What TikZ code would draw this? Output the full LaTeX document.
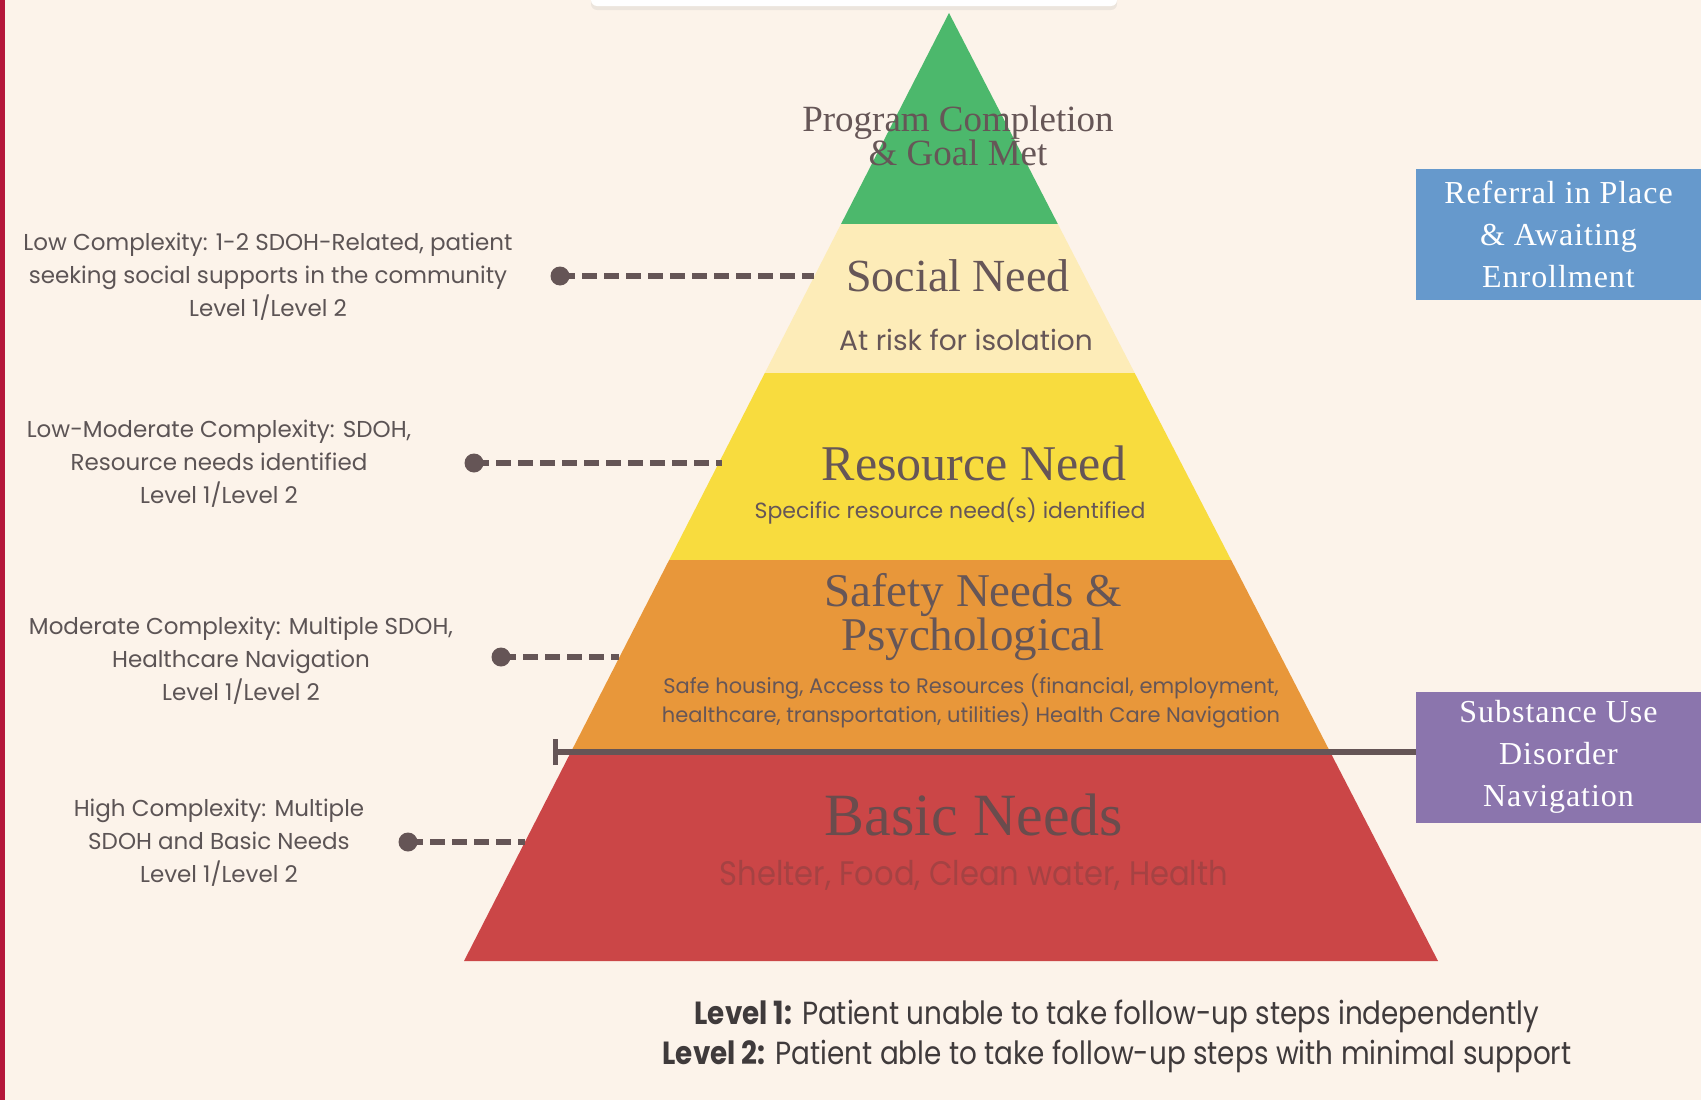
\documentclass[tikz,border=0pt]{standalone}
\usepackage{fontspec}
\setmainfont{Liberation Serif}
\setsansfont{Poppins}
\newfontfamily\condsans{Poppins}[FakeStretch=0.87]
\newfontfamily\shelterfont{Poppins}[FakeStretch=0.9]
\newfontfamily\boxfont{Liberation Serif}[LetterSpace=3]
\usetikzlibrary{arrows.meta,shadows}
\definecolor{bg}{HTML}{FCF3EA}
\definecolor{crim}{HTML}{B5173A}
\definecolor{pgreen}{HTML}{4CB86C}
\definecolor{plight}{HTML}{FDECB8}
\definecolor{pyellow}{HTML}{F8DC3E}
\definecolor{porange}{HTML}{E8973A}
\definecolor{pred}{HTML}{CB4647}
\definecolor{txt}{HTML}{665657}
\definecolor{basictxt}{HTML}{6A4C4D}
\definecolor{lbl}{HTML}{5C5455}
\definecolor{conn}{HTML}{655556}
\definecolor{bluebox}{HTML}{6699CC}
\definecolor{purplebox}{HTML}{8B75AD}
\definecolor{redsub}{HTML}{A54243}
\definecolor{legendtxt}{HTML}{3F3A3B}
\begin{document}
\begin{tikzpicture}[x=1pt,y=-1pt,
  head/.style={text=txt,align=center,inner sep=0pt},
  sub/.style={text=txt,align=center,inner sep=0pt,font=\sffamily},
  leftlbl/.style={text=lbl,align=center,inner sep=0pt,font=\sffamily\fontsize{23}{33}\selectfont},
  sidebox/.style={text=white,align=center,inner sep=0pt,minimum width=285pt,minimum height=131pt,font=\boxfont\fontsize{32}{42}\selectfont},
  dashconn/.style={draw=conn,line width=5.5pt,dash pattern=on 15pt off 7pt},
  dotend/.style={fill=conn}
]
\useasboundingbox (0,0) rectangle (1701,1100);
\fill[bg] (0,0) rectangle (1701,1100);
\fill[crim] (0,0) rectangle (5,1100);
% top strip
\fill[white,rounded corners=6pt,drop shadow={opacity=0.12,shadow xshift=0pt,shadow yshift=-4pt}] (591,-20) rectangle (1117,6);

% pyramid
\coordinate (apex) at (949,13);
\coordinate (bl) at (464,961);
\coordinate (br) at (1438,961);
\begin{scope}
  \clip (apex) -- (br) -- (bl) -- cycle;
  \fill[pgreen] (400,0) rectangle (1500,223.5);
  \fill[plight] (400,223.5) rectangle (1500,373);
  \fill[pyellow] (400,373) rectangle (1500,560);
  \fill[porange] (400,560) rectangle (1500,752);
  \fill[pred] (400,752) rectangle (1500,962);
\end{scope}

% pyramid texts
\node[head,font=\fontsize{37}{31}\selectfont] (prog) at (958,136) {Program Completion\\\& Goal Met};
\node[head,font=\fontsize{46}{46}\selectfont] (social) at (958,276) {Social Need};
\node[sub,font=\sffamily\fontsize{28}{28}\selectfont] (risk) at (966,340) {At risk for isolation};
\node[head,font=\fontsize{50}{50}\selectfont] (resource) at (974,463) {Resource Need};
\node[sub,font=\sffamily\fontsize{22}{22}\selectfont] (specific) at (950,511) {Specific resource need(s) identified};
\node[head,font=\fontsize{47}{36}\selectfont] (safety) at (973,617) {Safety Needs \&\\Psychological};
\node[sub,font=\sffamily\fontsize{21}{29}\selectfont] (safe) at (971,701) {Safe housing, Access to Resources (financial, employment,\\healthcare, transportation, utilities) Health Care Navigation};
\node[head,text=basictxt,font=\fontsize{60}{60}\selectfont] (basic) at (974,815) {Basic Needs};
\node[sub,text=redsub,font=\shelterfont\fontsize{34}{34}\selectfont] (shelter) at (974,875) {Shelter, Food, Clean water, Health};

% left labels
\node[leftlbl] (l1) at (268,277) {Low Complexity: 1-2 SDOH-Related, patient\\seeking social supports in the community\\Level 1/Level 2};
\node[leftlbl] (l2) at (219,464) {Low-Moderate Complexity: SDOH,\\Resource needs identified\\Level 1/Level 2};
\node[leftlbl] (l3) at (241,661) {Moderate Complexity: Multiple SDOH,\\Healthcare Navigation\\Level 1/Level 2};
\node[leftlbl] (l4) at (219,843) {High Complexity: Multiple\\SDOH and Basic Needs\\Level 1/Level 2};

% connectors
\coordinate (d1) at (560,276);  \coordinate (e1) at (814,276);
\coordinate (d2) at (474,463);  \coordinate (e2) at (722,463);
\coordinate (d3) at (501,657);  \coordinate (e3) at (619,657);
\coordinate (d4) at (408,842);  \coordinate (e4) at (525,842);
\foreach \i in {1,2,3,4}{
  \draw[dashconn] (d\i) -- (e\i);
  \fill[dotend] (d\i) circle (9.5pt);
}

% side boxes
\node[sidebox,fill=bluebox] (ref) at (1558.5,234.5) {Referral in Place\\\& Awaiting\\Enrollment};
\node[sidebox,fill=purplebox] (sud) at (1558.5,757) {Substance Use\\Disorder\\Navigation};

% SUD line
\coordinate (sudend) at (553,752);
\draw[conn,line width=6pt,{Bar[width=26pt,line width=5pt]}-] (sudend) -- (sudend -| sud.west);

% legend
\node[text=legendtxt,font=\condsans\fontsize{32}{40}\selectfont,align=center,inner sep=0pt] (legend) at (1117,1036)
  {{\bfseries Level 1:} Patient unable to take follow-up steps independently\\{\bfseries Level 2:} Patient able to take follow-up steps with minimal support};
\end{tikzpicture}
\end{document}
